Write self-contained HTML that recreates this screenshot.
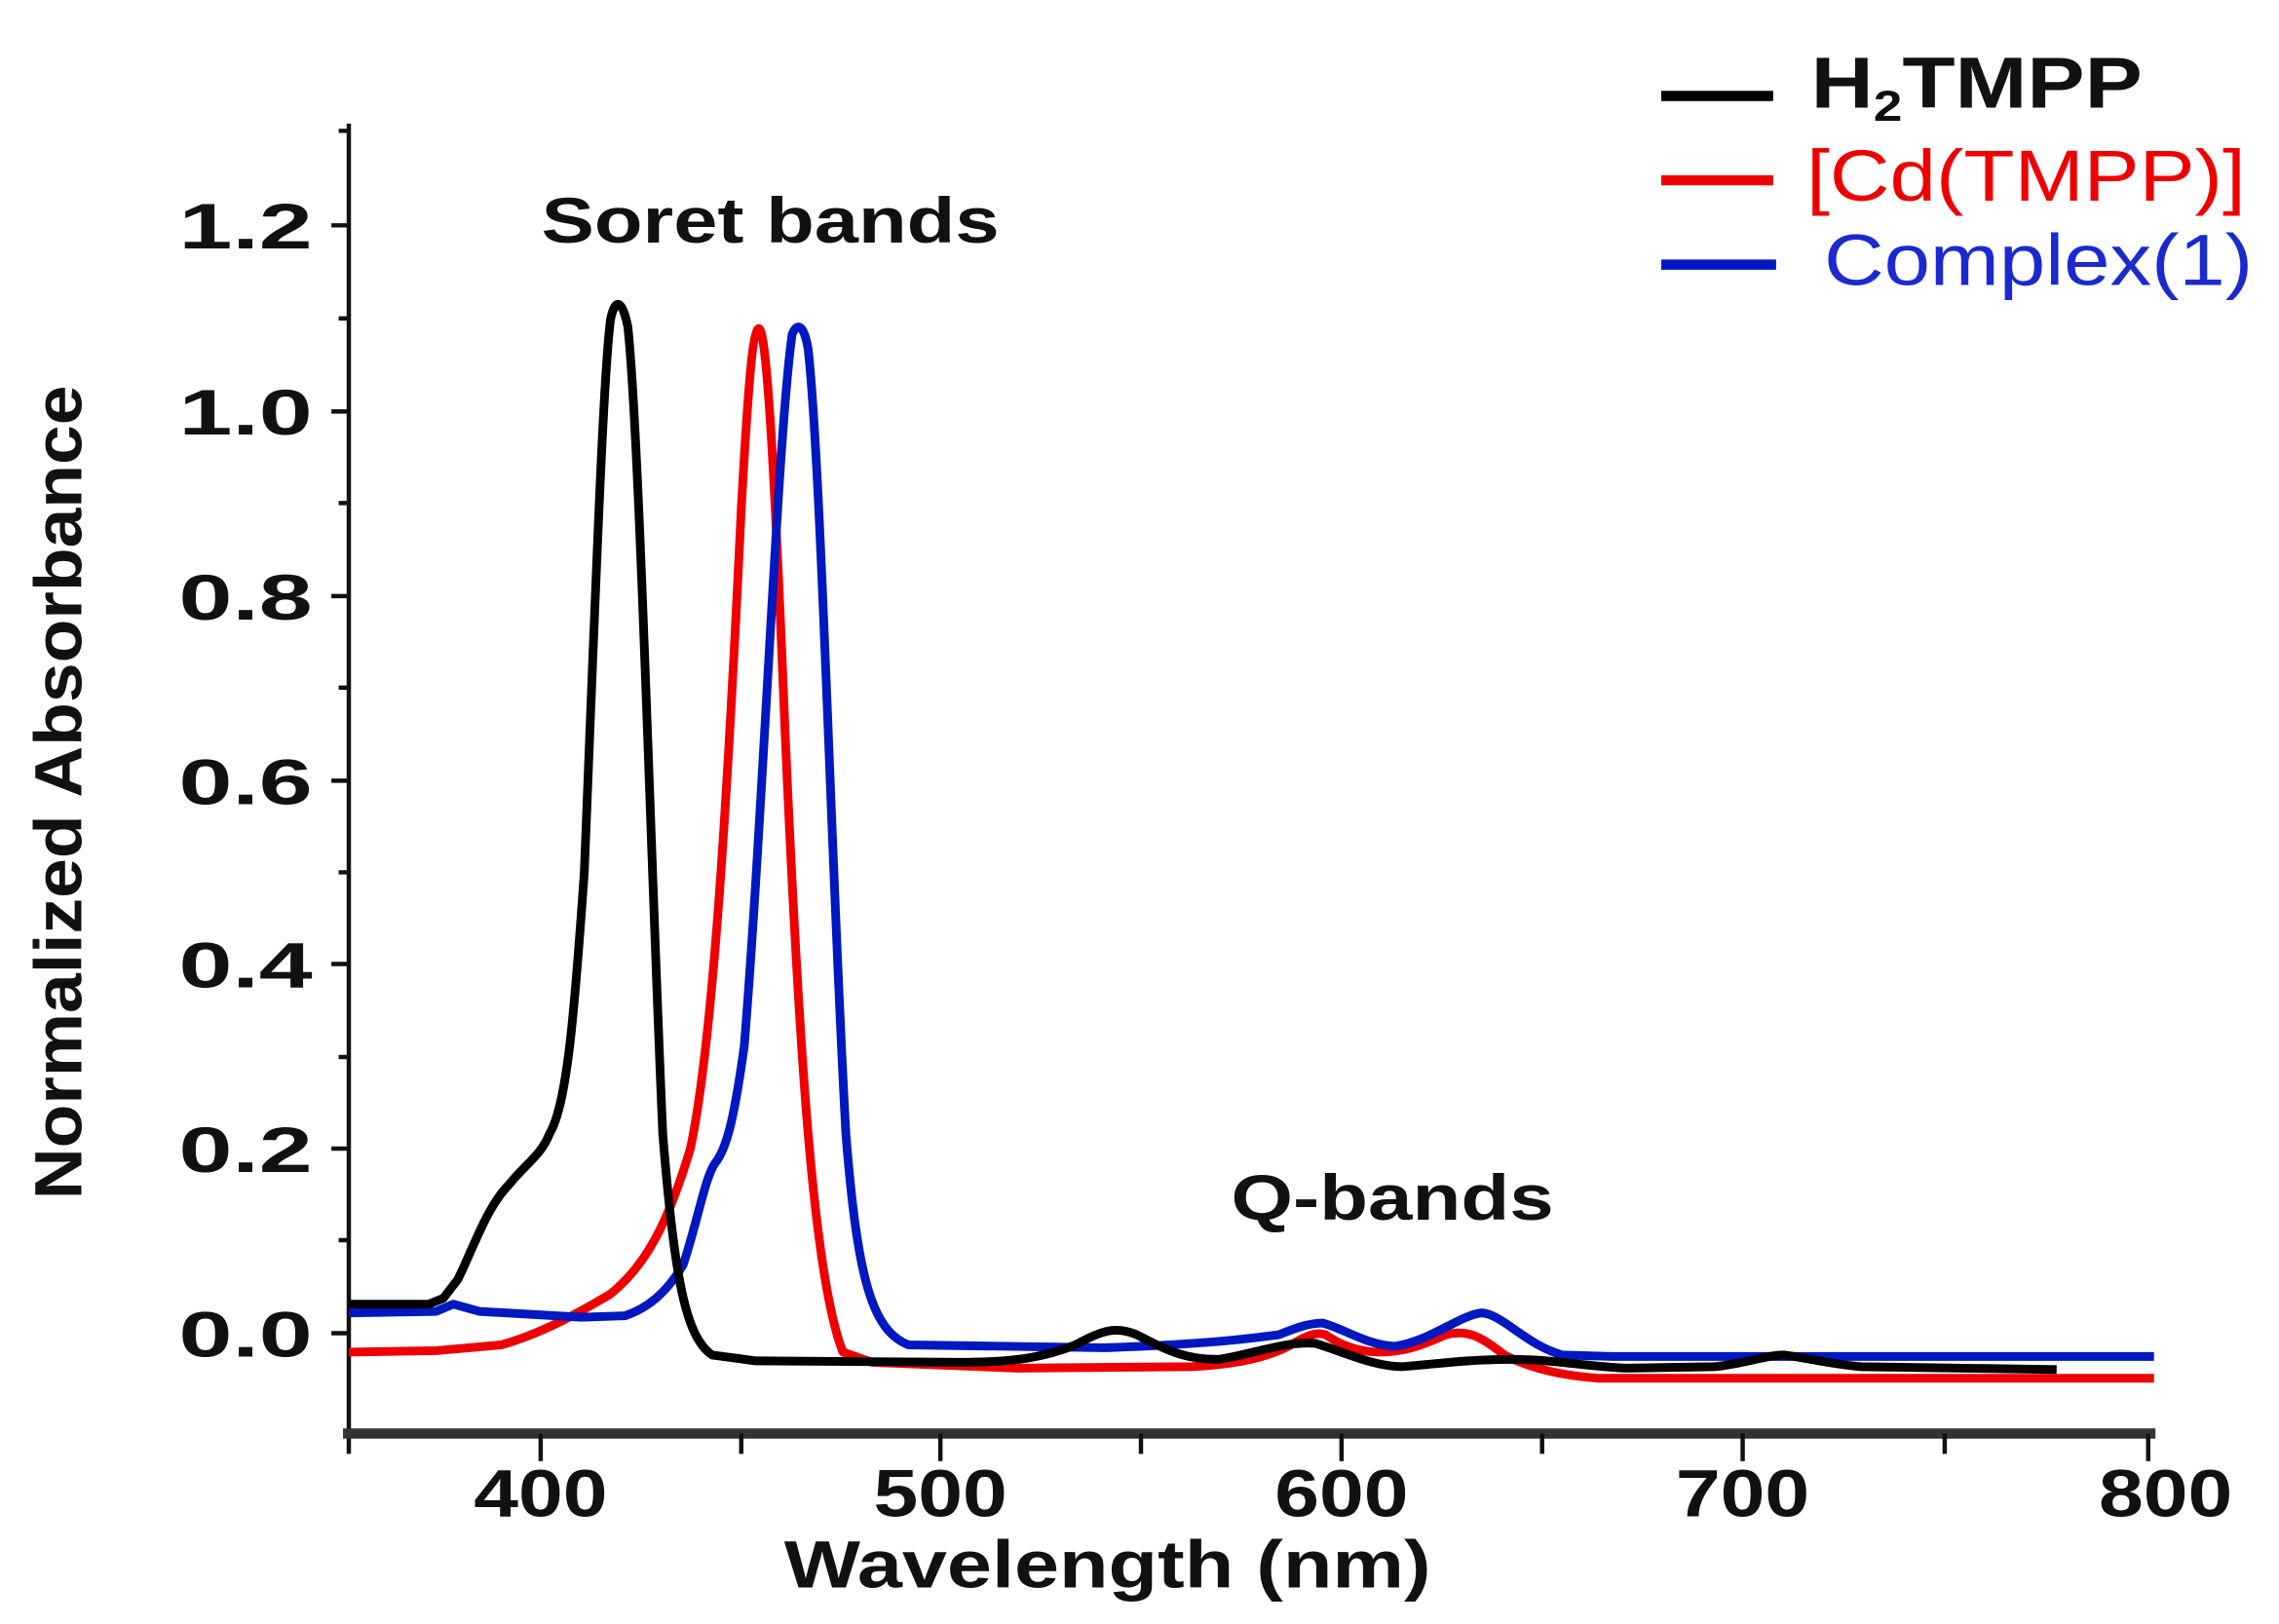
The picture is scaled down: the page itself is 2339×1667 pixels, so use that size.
<!DOCTYPE html>
<html><head><meta charset="utf-8"><style>html,body{margin:0;padding:0;background:#fff}svg{display:block}</style></head>
<body>
<svg width="2339" height="1667" viewBox="0 0 1568 1117" preserveAspectRatio="none" xmlns="http://www.w3.org/2000/svg" font-family="Liberation Sans, sans-serif" font-weight="bold">
<g stroke="#111" stroke-width="3" fill="none">
<line x1="240" y1="85" x2="240" y2="1000"/>
<line x1="236" y1="986" x2="1483" y2="986" stroke-width="7" stroke="#333"/>
<line x1="372" y1="986" x2="372" y2="1005"/><line x1="510" y1="986" x2="510" y2="1000"/>
<line x1="647" y1="986" x2="647" y2="1005"/><line x1="785" y1="986" x2="785" y2="1000"/>
<line x1="923" y1="986" x2="923" y2="1005"/><line x1="1061" y1="986" x2="1061" y2="1000"/>
<line x1="1199" y1="986" x2="1199" y2="1005"/><line x1="1338" y1="986" x2="1338" y2="1000"/>
<line x1="1478" y1="986" x2="1478" y2="1005"/>
<path d="M228 155h12M228 283h12M228 410h12M228 537h12M228 663h12M228 790h12M228 917h12M233 90h7M233 219h7M233 346h7M233 473h7M233 600h7M233 727h7M233 853h7"/>
</g>
<g font-size="44" text-anchor="end" fill="#111" lengthAdjust="spacingAndGlyphs">
<text x="215" y="171" textLength="92" lengthAdjust="spacingAndGlyphs">1.2</text><text x="215" y="299" textLength="92" lengthAdjust="spacingAndGlyphs">1.0</text><text x="215" y="426" textLength="92" lengthAdjust="spacingAndGlyphs">0.8</text>
<text x="215" y="553" textLength="92" lengthAdjust="spacingAndGlyphs">0.6</text><text x="215" y="679" textLength="92" lengthAdjust="spacingAndGlyphs">0.4</text><text x="215" y="806" textLength="92" lengthAdjust="spacingAndGlyphs">0.2</text><text x="215" y="933" textLength="92" lengthAdjust="spacingAndGlyphs">0.0</text>
</g>
<g font-size="46" text-anchor="middle" fill="#111">
<text x="372" y="1043" textLength="92" lengthAdjust="spacingAndGlyphs">400</text><text x="647" y="1043" textLength="92" lengthAdjust="spacingAndGlyphs">500</text><text x="923" y="1043" textLength="92" lengthAdjust="spacingAndGlyphs">600</text><text x="1199" y="1043" textLength="92" lengthAdjust="spacingAndGlyphs">700</text><text x="1490" y="1043" textLength="92" lengthAdjust="spacingAndGlyphs">800</text>
<text x="762" y="1092" font-size="46" textLength="445" lengthAdjust="spacingAndGlyphs">Wavelength (nm)</text>
<text x="530" y="167" font-size="44" textLength="315" lengthAdjust="spacingAndGlyphs">Soret bands</text>
<text x="958" y="839" font-size="44" textLength="222" lengthAdjust="spacingAndGlyphs">Q-bands</text>
<text transform="translate(56,545) rotate(-90)" font-size="46" textLength="560" lengthAdjust="spacingAndGlyphs">Normalized Absorbance</text>
</g>
<g fill="none" stroke-width="6" stroke-linejoin="round">
<path stroke="#e00" d="M240 930 L300 929 L345 925 C370 918 395 905 420 890 C445 870 460 840 475 790 C490 720 500 560 510 350 C515 260 518 228 522 226 C527 226 532 300 540 500 C550 730 560 880 580 930 L600 937 L700 941 L820 940 C860 938 880 930 890 924 C900 918 906 916 912 918 C922 925 935 930 950 930 C970 930 985 922 995 918 C1010 914 1020 920 1035 932 C1055 942 1075 946 1100 948 L1482 948"/>
<path stroke="#0018c0" d="M240 903 L300 902 L312 897 L330 902 L400 906 L430 905 C445 900 458 890 470 870 C480 840 485 810 492 800 C500 790 505 770 512 720 C525 560 535 300 545 230 C548 222 553 222 556 240 C565 320 572 600 582 780 C590 880 600 915 625 925 L760 927 C820 925 850 922 880 918 C890 914 900 910 910 910 C925 914 940 925 960 926 C985 922 1005 904 1020 903 C1035 905 1050 925 1075 932 L1110 933 L1482 933"/>
<path stroke="#000" d="M240 897 L295 897 L305 893 L315 880 C325 860 335 830 350 815 C362 800 372 795 378 780 C390 760 395 700 402 600 C410 400 415 260 420 220 C423 205 428 205 432 225 C440 300 448 600 456 780 C464 880 472 920 490 932 L520 936 L660 937 C700 937 720 933 740 925 C758 915 768 912 782 918 C798 926 812 935 838 935 C860 932 885 922 905 924 C925 930 945 940 965 940 C990 938 1010 935 1040 935 C1070 935 1090 940 1120 941 L1180 940 C1200 938 1215 932 1228 932 C1243 934 1258 938 1280 940 L1415 942"/>
</g>
<g stroke-width="7">
<line x1="1143" y1="66" x2="1220" y2="66" stroke="#000"/>
<line x1="1143" y1="124" x2="1220" y2="124" stroke="#e00"/>
<line x1="1143" y1="182" x2="1222" y2="182" stroke="#0018c0"/>
</g>
<g font-size="50">
<text x="1246" y="74" fill="#111" textLength="228" lengthAdjust="spacingAndGlyphs">H<tspan font-size="30" dy="9">2</tspan><tspan dy="-9">TMPP</tspan></text>
<text x="1243" y="138" fill="#e00" font-weight="normal" textLength="302" lengthAdjust="spacingAndGlyphs">[Cd(TMPP)]</text>
<text x="1255" y="196" fill="#1a2ad0" font-weight="normal" textLength="295" lengthAdjust="spacingAndGlyphs">Complex(1)</text>
</g>
</svg>
</body></html>
